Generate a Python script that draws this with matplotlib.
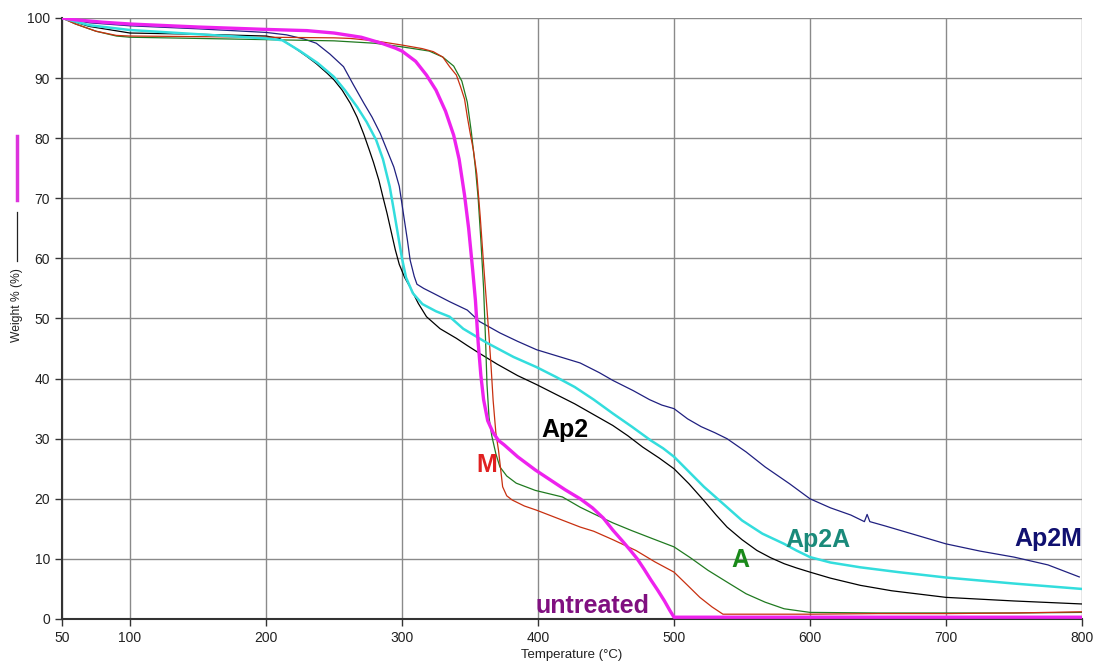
import matplotlib
matplotlib.use("Agg")
import matplotlib.pyplot as plt
from matplotlib.lines import Line2D

plt.rcParams['font.family'] = ['Liberation Sans', 'DejaVu Sans']

# ---------------- data ----------------
untreated_T = [50, 60, 80, 100, 150, 200, 230, 250, 270, 285, 295, 300, 310, 318, 325, 332, 338, 342,
               346, 349, 352, 354, 356, 358, 360, 363, 367, 371, 375, 385, 398, 410, 420, 431, 440,
               448, 455, 462, 468, 473, 478, 483, 488, 493, 497, 500, 600, 700, 800]
untreated_W = [100, 99.7, 99.3, 99.0, 98.5, 98.1, 97.9, 97.5, 96.8, 95.8, 95.0, 94.5, 92.8, 90.5, 88,
               84.5, 80.5, 76.5, 70.5, 65, 58, 53, 46, 40.5, 36.5, 33, 31, 29.7, 29, 27, 24.8, 23,
               21.5, 20, 18.5, 16.8, 14.8, 13, 11.4, 10, 8.3, 6.5, 4.8, 3, 1.4, 0.3, 0.3, 0.3, 0.3]

ap2_T = [50, 70, 100, 150, 200, 210, 220, 230, 237, 245, 250, 256, 262, 267, 272, 276, 279, 283, 286,
         289, 292, 295, 298, 302, 306, 312, 318, 328, 340, 348, 357, 370, 385, 399, 413, 427, 441,
         455, 466, 477, 489, 500, 511, 522, 531, 539, 550, 561, 571, 581, 590, 600, 615, 637, 660,
         700, 750, 800]
ap2_W = [100, 98.6, 97.5, 97.3, 97.0, 96.6, 95.2, 93.6, 92.4, 90.8, 89.7, 88, 85.8, 83.5, 80.6, 78,
         76, 73, 70.2, 67.5, 64.5, 61.5, 59, 56.8, 55.2, 52.5, 50.3, 48.3, 46.7, 45.5, 44.2, 42.4,
         40.5, 39.0, 37.4, 35.8, 34, 32.2, 30.5, 28.6, 26.8, 25, 22.5, 19.7, 17.3, 15.3, 13.2, 11.4,
         10.2, 9.2, 8.5, 7.8, 6.8, 5.6, 4.7, 3.6, 3.0, 2.5]

ap2a_T = [50, 70, 100, 150, 200, 212, 225, 238, 250, 258, 267, 274, 281, 286, 291, 294, 297, 300,
          303, 308, 315, 325, 335, 345, 362, 382, 399, 413, 427, 441, 455, 469, 483, 492, 500, 511,
          522, 536, 550, 565, 581, 590, 600, 615, 637, 665, 700, 750, 800]
ap2a_W = [100, 98.8, 98, 97.3, 96.6, 96.3, 94.5, 92.5, 90.2, 88, 85.2, 82.7, 79.7, 76.5, 71.9, 68,
          64, 60, 56.8, 54.2, 52.4, 51.2, 50.3, 48.3, 46, 43.6, 41.9, 40.3, 38.6, 36.5, 34.2, 32,
          29.7, 28.4, 27, 24.5, 22, 19.2, 16.4, 14.2, 12.5, 11.4, 10.3, 9.4, 8.6, 7.8, 6.9, 5.9, 5.0]

ap2m_T = [50, 70, 100, 150, 200, 215, 228, 237, 247, 257, 264, 272, 278, 284, 289, 294, 298, 301,
          304, 306, 309, 311, 316, 323, 335, 348, 357, 372, 385, 399, 415, 431, 445, 455, 470, 482,
          491, 500, 510, 520, 530, 539, 553, 567, 585, 600, 615, 630, 640, 642, 644, 655, 670, 700,
          725, 750, 775, 798]
ap2m_W = [100, 99.2, 98.7, 98.2, 97.6, 97.2, 96.5, 95.8, 94, 91.9, 89, 85.8, 83.5, 80.8, 78, 75.2,
          72, 67.5, 63, 59.7, 57, 55.7, 55, 54.2, 52.8, 51.4, 49.5, 47.6, 46.2, 44.8, 43.7, 42.6, 41,
          39.7, 38, 36.5, 35.6, 35, 33.3, 32, 31, 30, 27.8, 25.3, 22.5, 20, 18.5, 17.3, 16.2, 17.4,
          16.2, 15.5, 14.5, 12.5, 11.3, 10.3, 9, 7]

a_T = [50, 60, 75, 90, 100, 150, 200, 250, 280, 300, 320, 330, 338, 344, 348, 351, 354, 356, 358,
       360, 361.5, 362.5, 364, 366, 369, 372, 377, 384, 398, 418, 431, 441, 455, 469, 485, 500, 512,
       525, 540, 553, 567, 581, 600, 650, 700, 750, 800]
a_W = [100, 99, 97.8, 97, 96.8, 96.6, 96.4, 96.2, 95.8, 95.2, 94.5, 93.5, 92, 89.5, 86, 81, 75, 70,
       63, 55, 46, 39, 33.5, 30.5, 27.5, 25.3, 23.8, 22.6, 21.4, 20.3, 18.6, 17.5, 16, 14.7, 13.3,
       12, 10.2, 8.1, 6, 4.2, 2.8, 1.7, 1.1, 1.0, 1.0, 1.0, 1.1]

m_T = [50, 60, 75, 90, 100, 150, 200, 250, 262, 280, 300, 315, 323, 330, 335, 340, 343, 346, 348,
       350, 352.5, 355, 357.5, 360, 362, 364, 365.5, 367, 369, 371, 374, 377, 381, 390, 399, 415,
       431, 441, 455, 472, 486, 500, 510, 519, 528, 536, 545, 600, 650, 700, 750, 800]
m_W = [100, 99, 97.8, 97.1, 97, 96.9, 96.8, 96.7, 96.6, 96.2, 95.5, 94.9, 94.4, 93.5, 91.9, 90.5,
       88.6, 86.5, 83.6, 81, 78, 74, 67, 59, 53, 47, 42, 36.4, 31, 28, 22, 20.5, 19.8, 18.8, 18.1,
       16.7, 15.3, 14.6, 13.2, 11.4, 9.5, 7.8, 5.6, 3.6, 2, 0.8, 0.8, 0.8, 0.9, 0.9, 1.0, 1.2]

x_ticks = [50, 100, 200, 300, 400, 500, 600, 700, 800]
y_ticks = [0, 10, 20, 30, 40, 50, 60, 70, 80, 90, 100]

labels = ["Ap2", "M", "untreated", "A", "Ap2A", "Ap2M"]
label_T = [420, 362.5, 440, 549, 606, 800]
label_W = [30.3, 24.5, 1.0, 8.7, 12.0, 12.2]
label_colors = ["#000000", "#e02020", "#801080", "#1a8a1a", "#1a8a7a", "#101070"]
label_ha = ["center", "center", "center", "center", "center", "right"]

# ---------------- figure ----------------
fig = plt.figure(figsize=(11, 6.72), dpi=100)
ax = fig.add_axes([62/1100, 1-619/672, (1082-62)/1100, (619-18)/672])

ax.plot(ap2_T, ap2_W, color="#000000", lw=0.9, zorder=3)
ax.plot(ap2m_T, ap2m_W, color="#202080", lw=0.9, zorder=3)
ax.plot(a_T, a_W, color="#207a20", lw=0.9, zorder=3)
ax.plot(m_T, m_W, color="#c83010", lw=0.9, zorder=3)
ax.plot(ap2a_T, ap2a_W, color="#33dddd", lw=1.8, zorder=4)
ax.plot(untreated_T, untreated_W, color="#ee22ee", lw=2.4, zorder=5)

for s, t, w, c, ha in zip(labels, label_T, label_W, label_colors, label_ha):
    ax.text(t, w, s, color=c, ha=ha, va="baseline", fontsize=18, fontweight="bold",
            family=["Liberation Sans", "DejaVu Sans"], zorder=6)

ax.set_xlim(50, 800)
ax.set_ylim(0, 100)
ax.set_xticks(x_ticks)
ax.set_yticks(y_ticks)
ax.grid(True, color="#8a8a8a", lw=1.0)
ax.set_axisbelow(True)
for side in ["top", "right"]:
    ax.spines[side].set_visible(False)
for side in ["left", "bottom"]:
    ax.spines[side].set_color("#333333")
    ax.spines[side].set_linewidth(1.5)
ax.tick_params(axis="both", direction="out", length=5, width=1, color="#333333",
               labelsize=10, labelcolor="#222222")

ax.set_xlabel("Temperature (°C)", fontsize=9.5, color="#222222", labelpad=3)

# y label with series markers
fig.text(17/1100, 1-305/672, "Weight % (%)", rotation=90, ha="center", va="center",
         fontsize=8.7, color="#222222")
fig.add_artist(Line2D([17/1100, 17/1100], [1-136/672, 1-200/672], color="#dd33dd", lw=2.5))
fig.add_artist(Line2D([17/1100, 17/1100], [1-212/672, 1-261/672], color="#222222", lw=0.9))

fig.savefig("out.png", dpi=100)
